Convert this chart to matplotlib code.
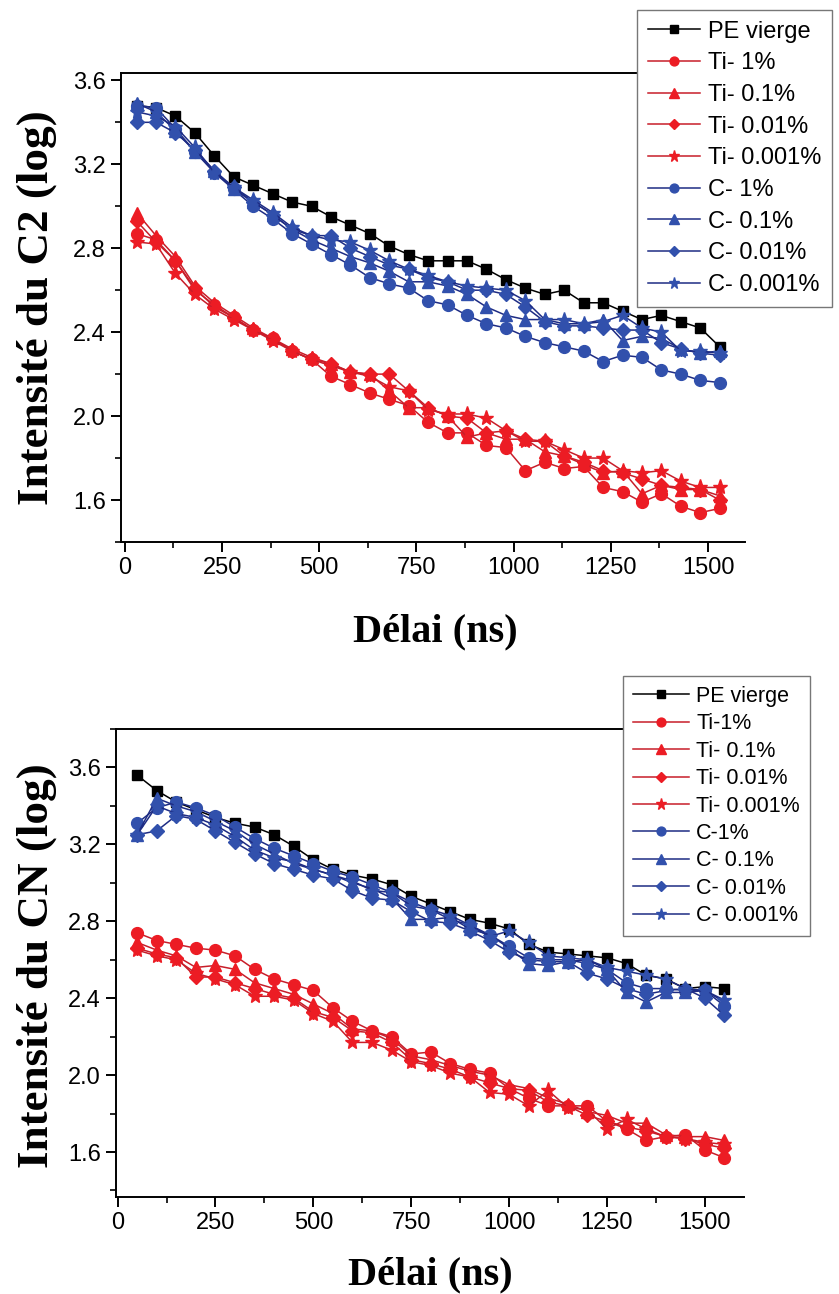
import matplotlib
matplotlib.use("Agg")
import matplotlib.pyplot as plt
from matplotlib.ticker import MultipleLocator

# ---------------- data: top chart (C2) ----------------
delay_c2 = [30 + 50 * k for k in range(31)]
c2_pe = [3.48, 3.47, 3.43, 3.35, 3.24, 3.14, 3.10, 3.06, 3.02, 3.00, 2.95, 2.91, 2.87,
         2.81, 2.77, 2.74, 2.74, 2.74, 2.70, 2.65, 2.61, 2.58, 2.60, 2.54, 2.54, 2.50,
         2.46, 2.48, 2.45, 2.42, 2.33]
c2_ti_1 = [2.87, 2.84, 2.74, 2.60, 2.53, 2.47, 2.41, 2.37, 2.31, 2.27, 2.19, 2.15, 2.11,
           2.08, 2.05, 1.97, 1.92, 1.92, 1.86, 1.85, 1.74, 1.78, 1.75, 1.76, 1.66, 1.64,
           1.59, 1.63, 1.57, 1.54, 1.56]
c2_ti_01 = [2.97, 2.86, 2.76, 2.62, 2.54, 2.48, 2.42, 2.37, 2.32, 2.28, 2.25, 2.21, 2.20,
            2.12, 2.04, 2.04, 2.00, 1.90, 1.92, 1.89, 1.89, 1.83, 1.81, 1.77, 1.73, 1.74,
            1.63, 1.67, 1.65, 1.65, 1.62]
c2_ti_001 = [2.93, 2.83, 2.74, 2.61, 2.52, 2.47, 2.41, 2.37, 2.31, 2.27, 2.25, 2.21, 2.20,
             2.20, 2.12, 2.04, 2.00, 1.99, 1.92, 1.93, 1.89, 1.88, 1.81, 1.78, 1.74, 1.73,
             1.70, 1.67, 1.66, 1.65, 1.60]
c2_ti_0001 = [2.83, 2.82, 2.68, 2.58, 2.51, 2.46, 2.41, 2.36, 2.31, 2.27, 2.24, 2.21, 2.19,
              2.14, 2.12, 2.03, 2.01, 2.01, 1.99, 1.93, 1.88, 1.88, 1.84, 1.80, 1.80, 1.74,
              1.73, 1.74, 1.69, 1.66, 1.66]
c2_c_1 = [3.48, 3.47, 3.37, 3.26, 3.16, 3.08, 3.00, 2.94, 2.87, 2.82, 2.77, 2.72, 2.66,
          2.63, 2.61, 2.55, 2.53, 2.48, 2.44, 2.42, 2.38, 2.35, 2.33, 2.31, 2.26, 2.29,
          2.28, 2.22, 2.20, 2.17, 2.16]
c2_c_01 = [3.49, 3.45, 3.36, 3.26, 3.17, 3.08, 3.02, 2.96, 2.89, 2.84, 2.80, 2.76, 2.73,
           2.69, 2.64, 2.64, 2.62, 2.58, 2.52, 2.48, 2.46, 2.46, 2.44, 2.44, 2.46, 2.36,
           2.38, 2.37, 2.32, 2.30, 2.31]
c2_c_001 = [3.40, 3.40, 3.35, 3.27, 3.17, 3.09, 3.02, 2.96, 2.89, 2.86, 2.86, 2.80, 2.76,
            2.72, 2.70, 2.66, 2.64, 2.60, 2.60, 2.58, 2.52, 2.45, 2.43, 2.43, 2.42, 2.41,
            2.41, 2.35, 2.32, 2.30, 2.29]
c2_c_0001 = [3.45, 3.43, 3.38, 3.28, 3.16, 3.09, 3.03, 2.97, 2.90, 2.86, 2.84, 2.83, 2.79,
             2.74, 2.70, 2.67, 2.64, 2.62, 2.61, 2.60, 2.55, 2.46, 2.46, 2.44, 2.45, 2.48,
             2.42, 2.40, 2.31, 2.31, 2.30]

# ---------------- data: bottom chart (CN) ----------------
delay_cn = [50 + 50 * k for k in range(31)]
cn_pe = [3.56, 3.48, 3.42, 3.38, 3.34, 3.31, 3.29, 3.25, 3.19, 3.12, 3.07, 3.04, 3.02,
         2.99, 2.93, 2.89, 2.85, 2.81, 2.79, 2.76, 2.68, 2.64, 2.63, 2.62, 2.61, 2.58,
         2.52, 2.50, 2.45, 2.46, 2.45]
cn_ti_1 = [2.74, 2.70, 2.68, 2.66, 2.65, 2.62, 2.55, 2.50, 2.47, 2.44, 2.35, 2.28, 2.23,
           2.20, 2.11, 2.12, 2.06, 2.03, 2.01, 1.93, 1.88, 1.84, 1.84, 1.84, 1.76, 1.72,
           1.66, 1.68, 1.69, 1.61, 1.57]
cn_ti_01 = [2.69, 2.65, 2.62, 2.56, 2.57, 2.55, 2.48, 2.45, 2.42, 2.37, 2.32, 2.24, 2.23,
            2.19, 2.10, 2.08, 2.05, 2.02, 2.00, 1.95, 1.93, 1.88, 1.85, 1.81, 1.79, 1.75,
            1.75, 1.69, 1.68, 1.68, 1.66]
cn_ti_001 = [2.66, 2.63, 2.61, 2.51, 2.51, 2.48, 2.45, 2.42, 2.40, 2.33, 2.30, 2.23, 2.22,
             2.17, 2.08, 2.06, 2.03, 1.99, 1.96, 1.93, 1.92, 1.86, 1.84, 1.79, 1.76, 1.73,
             1.71, 1.68, 1.67, 1.64, 1.62]
cn_ti_0001 = [2.65, 2.62, 2.60, 2.53, 2.50, 2.47, 2.41, 2.41, 2.39, 2.32, 2.28, 2.17, 2.17,
              2.13, 2.07, 2.05, 2.01, 1.99, 1.91, 1.90, 1.84, 1.92, 1.83, 1.82, 1.72, 1.77,
              1.72, 1.68, 1.67, 1.65, 1.64]
cn_c_1 = [3.31, 3.39, 3.42, 3.39, 3.35, 3.29, 3.23, 3.18, 3.14, 3.10, 3.06, 3.03, 2.99,
          2.95, 2.90, 2.86, 2.81, 2.78, 2.73, 2.67, 2.61, 2.60, 2.60, 2.58, 2.55, 2.48,
          2.45, 2.45, 2.44, 2.44, 2.36]
cn_c_01 = [3.25, 3.44, 3.40, 3.37, 3.32, 3.27, 3.20, 3.15, 3.10, 3.07, 3.04, 3.00, 2.97,
           2.92, 2.81, 2.81, 2.82, 2.76, 2.73, 2.66, 2.58, 2.57, 2.59, 2.60, 2.55, 2.43,
           2.38, 2.43, 2.43, 2.44, 2.38]
cn_c_001 = [3.25, 3.27, 3.35, 3.33, 3.27, 3.21, 3.15, 3.10, 3.07, 3.04, 3.02, 2.96, 2.92,
            2.91, 2.85, 2.80, 2.79, 2.75, 2.70, 2.64, 2.60, 2.59, 2.59, 2.53, 2.50, 2.45,
            2.42, 2.44, 2.45, 2.40, 2.31]
cn_c_0001 = [3.25, 3.40, 3.36, 3.34, 3.30, 3.24, 3.17, 3.13, 3.11, 3.07, 3.04, 3.01, 2.96,
             2.95, 2.88, 2.86, 2.83, 2.78, 2.72, 2.75, 2.69, 2.62, 2.61, 2.60, 2.56, 2.54,
             2.52, 2.50, 2.45, 2.44, 2.39]

labels_c2 = ["PE vierge", "Ti- 1%", "Ti- 0.1%", "Ti- 0.01%", "Ti- 0.001%",
             "C- 1%", "C- 0.1%", "C- 0.01%", "C- 0.001%"]
labels_cn = ["PE vierge", "Ti-1%", "Ti- 0.1%", "Ti- 0.01%", "Ti- 0.001%",
             "C-1%", "C- 0.1%", "C- 0.01%", "C- 0.001%"]
y_ticks = [1.6, 2.0, 2.4, 2.8, 3.2, 3.6]
x_ticks = [0, 250, 500, 750, 1000, 1250, 1500]

# ---------------- styles ----------------
RED_M, RED_L = "#ec1c24", "#c81e2a"
BLUE_M, BLUE_L = "#3150ac", "#1e2c84"
styles = [
    dict(marker="s", color="black", mfc="black", mec="black", ms=7.0),
    dict(marker="o", color=RED_L, mfc=RED_M, mec=RED_M, ms=8.5),
    dict(marker="^", color=RED_L, mfc=RED_M, mec=RED_M, ms=9.0),
    dict(marker="D", color=RED_L, mfc=RED_M, mec=RED_M, ms=7.0),
    dict(marker="*", color=RED_L, mfc=RED_M, mec=RED_M, ms=11.0),
    dict(marker="o", color=BLUE_L, mfc=BLUE_M, mec=BLUE_M, ms=8.5),
    dict(marker="^", color=BLUE_L, mfc=BLUE_M, mec=BLUE_M, ms=9.0),
    dict(marker="D", color=BLUE_L, mfc=BLUE_M, mec=BLUE_M, ms=7.0),
    dict(marker="*", color=BLUE_L, mfc=BLUE_M, mec=BLUE_M, ms=11.0),
]

plt.rcParams["font.family"] = ["Liberation Sans", "DejaVu Sans"]
SERIF = ["Liberation Serif", "DejaVu Serif"]

W, H = 839, 1294
fig = plt.figure(figsize=(W / 100, H / 100), dpi=100)


def fx(px):
    return px / W


def fy(py):
    return 1 - py / H


def make_axes(left, right, top, bottom, x, series, labels, ylim, xlim, ylabel,
              ylab_xy, xlab_xy, leg_xy, leg_fs, leg_sp, leg_hl):
    ax = fig.add_axes([fx(left), fy(bottom), fx(right - left), fy(top) - fy(bottom)])
    handles = []
    for ys, st, lab in zip(series, styles, labels):
        h, = ax.plot(x, ys, linestyle="-", lw=1.1, label=lab, **st)
        handles.append(h)
    ax.set_xlim(*xlim)
    ax.set_ylim(*ylim)
    ax.set_xticks(x_ticks)
    ax.set_yticks(y_ticks)
    ax.xaxis.set_minor_locator(MultipleLocator(125))
    ax.yaxis.set_minor_locator(MultipleLocator(0.2))
    ax.set_yticklabels([f"{v:.1f}" for v in y_ticks])
    ax.tick_params(which="major", direction="out", length=7, width=1.4, labelsize=17,
                   top=False, right=False, pad=4)
    ax.tick_params(which="minor", direction="out", length=4, width=1.2,
                   top=False, right=False)
    for s in ["left", "bottom", "top"]:
        ax.spines[s].set_linewidth(1.4)
    ax.spines["right"].set_visible(False)
    fig.text(fx(ylab_xy[0]), fy(ylab_xy[1]), ylabel, rotation=90, ha="center",
             va="center", fontsize=32.5, fontweight="bold", family=SERIF)
    fig.text(fx(xlab_xy[0]), fy(xlab_xy[1]), "Délai (ns)", ha="center",
             va="center", fontsize=29, fontweight="bold", family=SERIF)
    leg = fig.legend(handles=handles, labels=labels, loc="upper left",
                     bbox_to_anchor=(fx(leg_xy[0]), fy(leg_xy[1])),
                     bbox_transform=fig.transFigure, borderaxespad=0,
                     fontsize=leg_fs, frameon=True, fancybox=False, edgecolor="#777777",
                     framealpha=1, handlelength=leg_hl, handletextpad=0.35,
                     labelspacing=leg_sp, borderpad=0.45, markerscale=0.75)
    leg.get_frame().set_linewidth(1.0)
    return ax


make_axes(121, 745, 73, 542, delay_c2,
          [c2_pe, c2_ti_1, c2_ti_01, c2_ti_001, c2_ti_0001,
           c2_c_1, c2_c_01, c2_c_001, c2_c_0001],
          labels_c2, (1.40, 3.635), (-10, 1595), "Intensité du C2 (log)",
          (37, 308), (435, 632), (637, 10), 17, 0.41, 2.2)

make_axes(116, 744, 729, 1197, delay_cn,
          [cn_pe, cn_ti_1, cn_ti_01, cn_ti_001, cn_ti_0001,
           cn_c_1, cn_c_01, cn_c_001, cn_c_0001],
          labels_cn, (1.366, 3.80), (-4, 1600), "Intensité du CN (log)",
          (37, 966), (430, 1275), (623, 676), 15.5, 0.30, 2.6)

fig.savefig("out.png", dpi=100)
